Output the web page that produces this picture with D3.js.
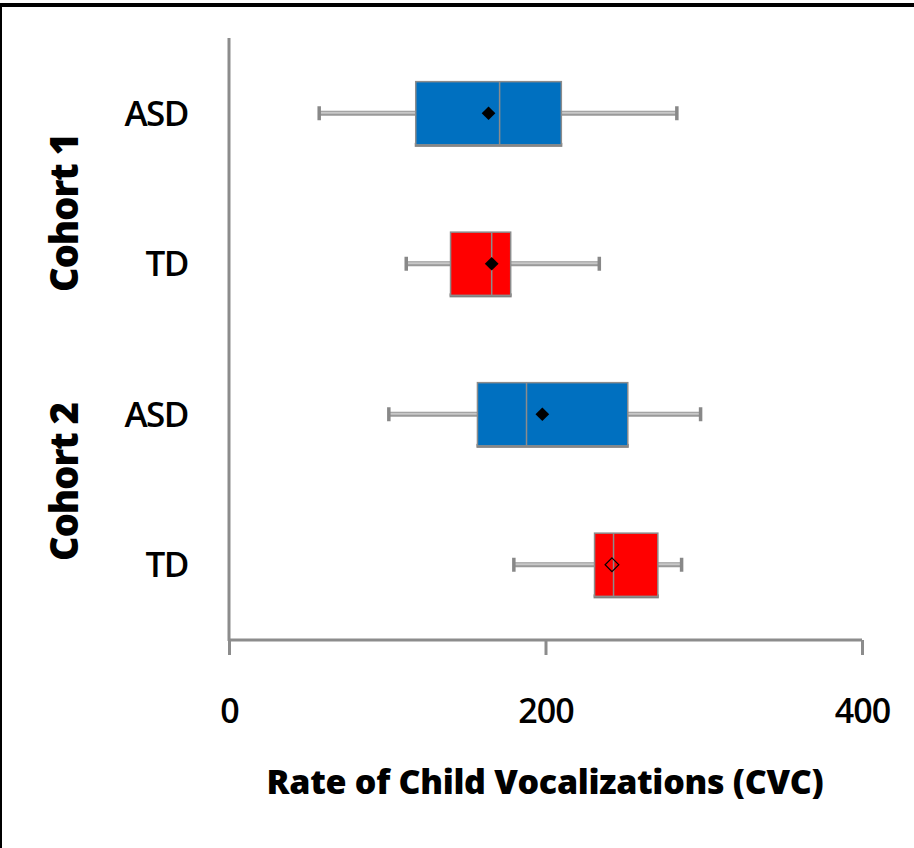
<!DOCTYPE html>
<html>
<head>
<meta charset="utf-8">
<script src="https://cdn.jsdelivr.net/npm/d3@7/dist/d3.min.js"></script>
<style>
  html, body { margin: 0; padding: 0; background: #fff; }
  svg { display: block; }
  text { font-family: "Open Sans", Lato, sans-serif; fill: #000; }
</style>
</head>
<body>
<svg id="chart"></svg>
<script>
// Groups top to bottom
const groups = [ 'ASD', 'TD', 'ASD', 'TD' ];
const cohorts = [ 'Cohort 1', 'Cohort 2' ];

// Five-number summaries
const whiskerLow = [ 57, 112, 101, 180 ];
const q1 = [ 118, 140, 157, 231 ];
const median = [ 171, 166, 188, 243 ];
const q3 = [ 210, 178, 252, 271 ];
const whiskerHigh = [ 283, 234, 298, 286 ];
const means = [ 164, 166, 198, 242 ];

const boxColors = [ '#0070c0', '#ff0000', '#0070c0', '#ff0000' ];
const meanFilled = [ true, true, true, false ];

const xTicks = [ 0, 200, 400 ];
const xTitle = 'Rate of Child Vocalizations (CVC)';

const width = 914;
const height = 848;
const plot = { left: 229, right: 862, top: 38, bottom: 640 };

const svg = d3.select( '#chart' )
	.attr( 'width', width )
	.attr( 'height', height );

// outer frame (top and left only, as in the picture)
svg.append( 'rect' ).attr( 'x', 0 ).attr( 'y', 3 ).attr( 'width', width ).attr( 'height', 4 ).attr( 'fill', '#000' );
svg.append( 'rect' ).attr( 'x', 0 ).attr( 'y', 3 ).attr( 'width', 2 ).attr( 'height', height ).attr( 'fill', '#000' );

const x = d3.scaleLinear()
	.domain( [ 0, 400 ] )
	.range( [ plot.left, plot.right ] );

const y = d3.scaleBand()
	.domain( d3.range( groups.length ) )
	.range( [ plot.top, plot.bottom ] )
	.paddingInner( 0.58 )
	.paddingOuter( 0.29 );

const axisGrey = '#8c8c8c';

// x axis
const xAxis = svg.append( 'g' )
	.attr( 'transform', `translate(0,${ plot.bottom })` )
	.call( d3.axisBottom( x ).tickValues( xTicks ).tickSize( 15 ).tickPadding( 44 ) );
xAxis.select( '.domain' ).attr( 'stroke', axisGrey ).attr( 'stroke-width', 3 ).attr( 'd', `M${ plot.left },0H${ plot.right }` );
xAxis.selectAll( '.tick line' ).attr( 'stroke', axisGrey ).attr( 'stroke-width', 3 );
xAxis.selectAll( '.tick text' )
	.style( 'font-family', '"Open Sans", sans-serif' )
	.style( 'font-size', '34px' )
	.style( 'font-weight', '600' )
	.style( 'letter-spacing', '-1px' )
	.attr( 'fill', '#000' );

// y axis line
svg.append( 'line' )
	.attr( 'x1', plot.left ).attr( 'x2', plot.left )
	.attr( 'y1', plot.top ).attr( 'y2', plot.bottom + 1 )
	.attr( 'stroke', axisGrey )
	.attr( 'stroke-width', 3 );

// group labels
svg.selectAll( '.group-label' )
	.data( groups )
	.join( 'text' )
	.attr( 'class', 'group-label' )
	.attr( 'x', 188 )
	.attr( 'y', ( d, i ) => y( i ) + y.bandwidth() / 2 )
	.attr( 'dy', '0.36em' )
	.attr( 'text-anchor', 'end' )
	.style( 'font-size', '35px' )
	.style( 'font-weight', '600' )
	.style( 'letter-spacing', '-1.5px' )
	.text( ( d ) => d );

// cohort labels, rotated (baseline on the right side)
const cohortCenter = [ 213, 482 ];
svg.selectAll( '.cohort-label' )
	.data( cohorts )
	.join( 'text' )
	.attr( 'class', 'cohort-label' )
	.attr( 'transform', ( d, i ) => `translate(78,${ cohortCenter[ i ] }) rotate(-90)` )
	.attr( 'text-anchor', 'middle' )
	.style( 'font-size', '38px' )
	.style( 'font-weight', '800' )
	.style( 'letter-spacing', '-1px' )
	.text( ( d ) => d );

// boxes
const rows = svg.selectAll( '.row' )
	.data( groups.map( ( g, i ) => i ) )
	.join( 'g' )
	.attr( 'class', 'row' );

const cy = ( i ) => y( i ) + y.bandwidth() / 2;

// whiskers: darker outline with lighter core
rows.append( 'line' )
	.attr( 'x1', ( i ) => x( whiskerLow[ i ] ) )
	.attr( 'x2', ( i ) => x( whiskerHigh[ i ] ) )
	.attr( 'y1', cy ).attr( 'y2', cy )
	.attr( 'stroke', '#999' )
	.attr( 'stroke-width', 5 );
rows.append( 'line' )
	.attr( 'x1', ( i ) => x( whiskerLow[ i ] ) )
	.attr( 'x2', ( i ) => x( whiskerHigh[ i ] ) )
	.attr( 'y1', ( i ) => cy( i ) - 0.5 ).attr( 'y2', ( i ) => cy( i ) - 0.5 )
	.attr( 'stroke', '#c8c8c8' )
	.attr( 'stroke-width', 2 );

// whisker caps
[ whiskerLow, whiskerHigh ].forEach( ( arr ) => {
	rows.append( 'line' )
		.attr( 'x1', ( i ) => x( arr[ i ] ) )
		.attr( 'x2', ( i ) => x( arr[ i ] ) )
		.attr( 'y1', ( i ) => cy( i ) - 7 )
		.attr( 'y2', ( i ) => cy( i ) + 7 )
		.attr( 'stroke', '#888' )
		.attr( 'stroke-width', 3.5 );
} );

// box bottom shadow
rows.append( 'rect' )
	.attr( 'x', ( i ) => x( q1[ i ] ) - 1 )
	.attr( 'y', ( i ) => y( i ) + y.bandwidth() - 2 )
	.attr( 'width', ( i ) => x( q3[ i ] ) - x( q1[ i ] ) + 2 )
	.attr( 'height', 4 )
	.attr( 'fill', '#7f7f7f' );

rows.append( 'rect' )
	.attr( 'x', ( i ) => x( q1[ i ] ) )
	.attr( 'y', ( i ) => y( i ) )
	.attr( 'width', ( i ) => x( q3[ i ] ) - x( q1[ i ] ) )
	.attr( 'height', y.bandwidth() )
	.attr( 'fill', ( i ) => boxColors[ i ] )
	.attr( 'stroke', '#8c8c8c' )
	.attr( 'stroke-width', 1.5 );

// median
rows.append( 'line' )
	.attr( 'x1', ( i ) => x( median[ i ] ) )
	.attr( 'x2', ( i ) => x( median[ i ] ) )
	.attr( 'y1', ( i ) => y( i ) )
	.attr( 'y2', ( i ) => y( i ) + y.bandwidth() )
	.attr( 'stroke', '#8c8c8c' )
	.attr( 'stroke-width', 1.5 );

// mean diamond
const diamond = d3.symbol().type( d3.symbolDiamond2 ).size( 120 );
rows.append( 'path' )
	.attr( 'd', diamond )
	.attr( 'transform', ( i ) => `translate(${ x( means[ i ] ) },${ cy( i ) })` )
	.attr( 'fill', ( i ) => ( meanFilled[ i ] ? '#000' : 'none' ) )
	.attr( 'stroke', '#000' )
	.attr( 'stroke-width', ( i ) => ( meanFilled[ i ] ? 0 : 1.2 ) );

// x axis title
svg.append( 'text' )
	.attr( 'x', 545 )
	.attr( 'y', 794 )
	.attr( 'text-anchor', 'middle' )
	.style( 'font-size', '34px' )
	.style( 'font-weight', '800' )
	.style( 'letter-spacing', '-0.3px' )
	.text( xTitle );
</script>
</body>
</html>
